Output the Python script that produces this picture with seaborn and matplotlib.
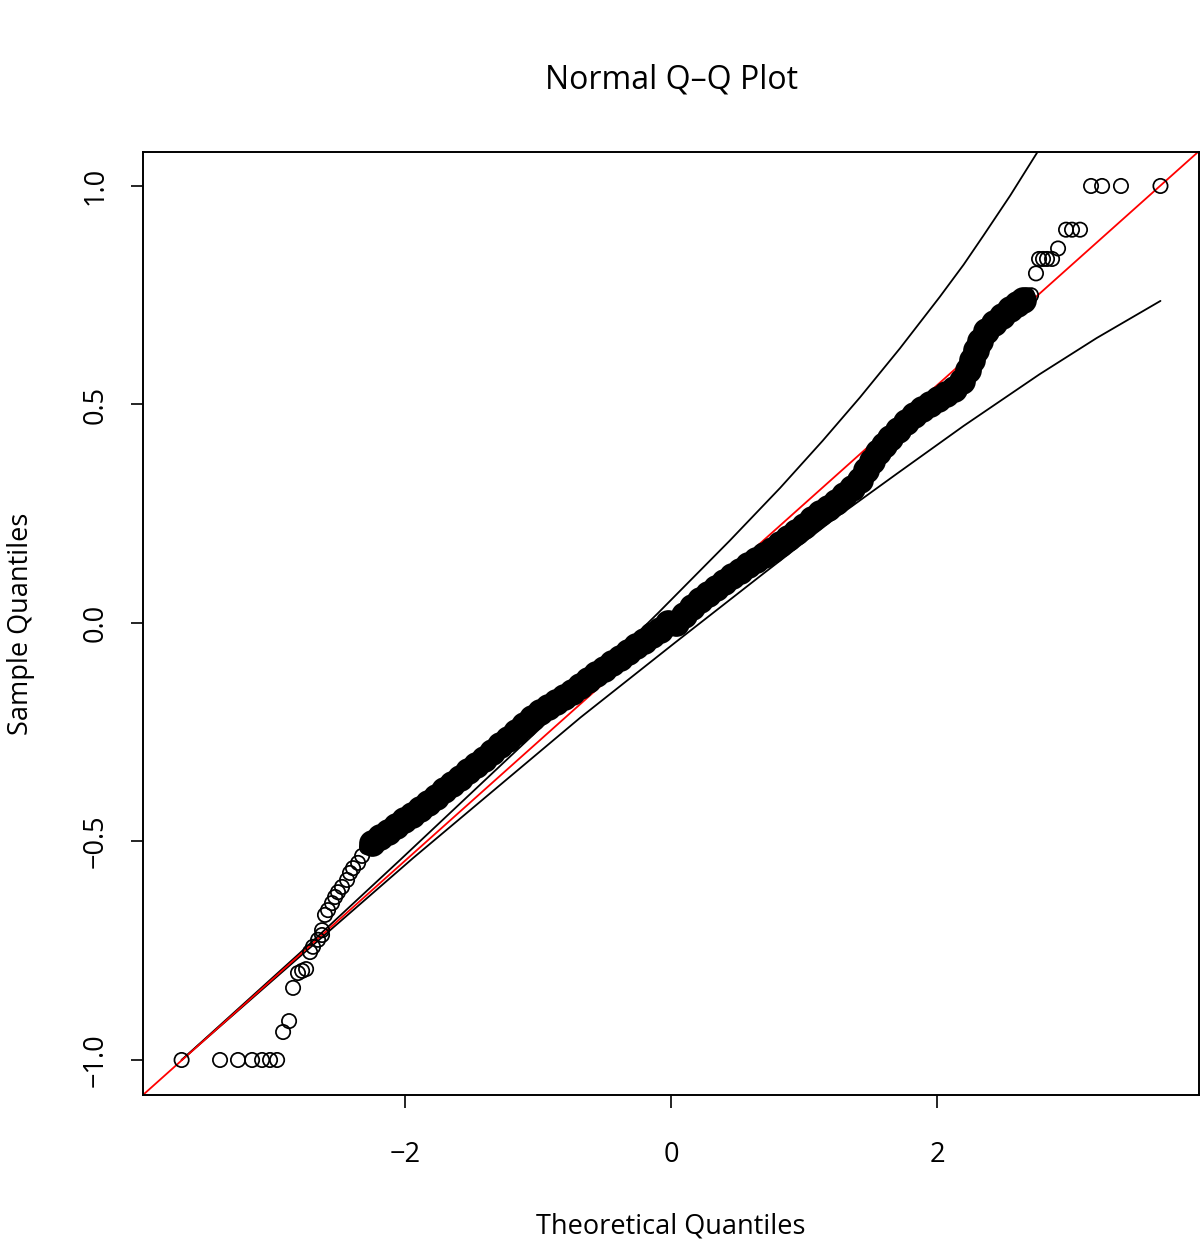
import matplotlib
matplotlib.use("Agg")
import matplotlib.pyplot as plt
import pandas as pd
import seaborn as sns

# Quantis teóricos x quantis amostrais
# cauda inferior: círculos isolados
low_tail_x = [-3.68, -3.391, -3.256, -3.150, -3.075, -3.015, -2.962, -2.917, -2.872,
              -2.842, -2.805, -2.774, -2.744, -2.714, -2.692, -2.654, -2.624, -2.624,
              -2.602, -2.579, -2.549, -2.526, -2.504, -2.474, -2.436, -2.414, -2.391,
              -2.353, -2.323, -2.286]
low_tail_y = [-1.0, -1.0, -1.0, -1.0, -1.0, -1.0, -1.0, -0.936, -0.911,
              -0.835, -0.801, -0.796, -0.792, -0.753, -0.741, -0.725, -0.714, -0.703,
              -0.668, -0.657, -0.641, -0.627, -0.616, -0.604, -0.588, -0.572, -0.561,
              -0.549, -0.533, -0.513]

# faixa central (pontos sobrepostos)
band_x = [-2.248, -2.188, -2.128, -2.068, -2.008, -1.947, -1.887, -1.827, -1.767, -1.707,
          -1.647, -1.586, -1.526, -1.466, -1.406, -1.346, -1.286, -1.226, -1.165, -1.105,
          -1.045, -0.985, -0.925, -0.865, -0.805, -0.744, -0.684, -0.624, -0.564, -0.504,
          -0.444, -0.383, -0.323, -0.263, -0.203, -0.143, -0.083, -0.023, 0.038, 0.098,
          0.158, 0.218, 0.278, 0.338, 0.398, 0.459, 0.519, 0.579, 0.639, 0.699,
          0.759, 0.820, 0.880, 0.940, 1.000, 1.060, 1.120, 1.180, 1.241, 1.301,
          1.361, 1.421, 1.466, 1.511, 1.556, 1.602, 1.647, 1.707, 1.767, 1.827,
          1.887, 1.947, 2.008, 2.068, 2.128, 2.188, 2.233, 2.263, 2.293, 2.323,
          2.368, 2.429, 2.489, 2.549, 2.602, 2.647]
band_y = [-0.503, -0.490, -0.478, -0.465, -0.451, -0.439, -0.426, -0.412, -0.398, -0.382,
          -0.368, -0.355, -0.339, -0.325, -0.311, -0.295, -0.279, -0.265, -0.249, -0.233,
          -0.217, -0.204, -0.192, -0.181, -0.169, -0.158, -0.144, -0.130, -0.117, -0.105,
          -0.092, -0.080, -0.066, -0.053, -0.041, -0.027, -0.016, 0.0, 0.0, 0.018,
          0.037, 0.053, 0.066, 0.079, 0.093, 0.107, 0.119, 0.133, 0.145, 0.155,
          0.167, 0.181, 0.195, 0.208, 0.223, 0.238, 0.251, 0.264, 0.277, 0.292,
          0.309, 0.327, 0.350, 0.371, 0.391, 0.407, 0.423, 0.442, 0.460, 0.476,
          0.490, 0.501, 0.513, 0.524, 0.535, 0.554, 0.579, 0.602, 0.625, 0.645,
          0.668, 0.686, 0.703, 0.719, 0.730, 0.739]

# cauda superior: círculos isolados
high_tail_x = [2.677, 2.707, 2.744, 2.767, 2.797, 2.827, 2.865, 2.910, 2.970, 3.015,
               3.075, 3.158, 3.241, 3.383, 3.68]
high_tail_y = [0.75, 0.75, 0.80, 0.833, 0.833, 0.833, 0.833, 0.857, 0.90, 0.90,
               0.90, 1.0, 1.0, 1.0, 1.0]

# curvas do envelope
upper_x = [-3.68, -2.79, -2.04, -0.89, -0.10, 0.44, 0.82, 1.14, 1.42, 1.72,
           2.02, 2.20, 2.35, 2.55, 2.76]
upper_y = [-1.0, -0.755, -0.543, -0.214, 0.022, 0.188, 0.309, 0.417, 0.516, 0.628,
           0.746, 0.820, 0.887, 0.978, 1.080]
lower_x = [-3.68, -2.79, -1.94, -0.68, 0.03, 0.69, 1.20, 1.70, 2.20, 2.77, 3.20, 3.68]
lower_y = [-1.0, -0.763, -0.538, -0.216, -0.045, 0.112, 0.232, 0.342, 0.451, 0.569,
           0.652, 0.737]

# linha de referência (qqline)
qq_slope = 0.272
qq_intercept = 0.0

x_ticks = [-2, 0, 2]
x_labels = ["\u22122", "0", "2"]
y_ticks = [-1.0, -0.5, 0.0, 0.5, 1.0]
y_labels = ["\u22121.0", "\u22120.5", "0.0", "0.5", "1.0"]

sns.set_theme(style="white")
plt.rcParams["font.family"] = ["Open Sans", "DejaVu Sans"]
plt.rcParams["text.color"] = "black"
plt.rcParams["axes.labelcolor"] = "black"

band = pd.DataFrame({"teorico": band_x, "amostral": band_y})
tails = pd.DataFrame({"teorico": low_tail_x + high_tail_x,
                      "amostral": low_tail_y + high_tail_y})

fig = plt.figure(figsize=(12, 12.43), dpi=100)
ax = fig.add_axes([0.1192, 0.1191, 0.88, 0.7587])

sns.lineplot(x=upper_x, y=upper_y, sort=False, estimator=None, color="black", lw=1.3, ax=ax)
sns.lineplot(x=lower_x, y=lower_y, sort=False, estimator=None, color="black", lw=1.3, ax=ax)
ax.axline((0, qq_intercept), slope=qq_slope, color="red", lw=1.3)

sns.scatterplot(data=band, x="teorico", y="amostral", s=370, color="black",
                edgecolor="black", linewidth=0, ax=ax, zorder=3)
sns.scatterplot(data=tails, x="teorico", y="amostral", s=106, facecolors="none",
                edgecolors="black", linewidth=1.25, ax=ax, zorder=3)

ax.set_xlim(-3.97, 3.97)
ax.set_ylim(-1.08, 1.078)
ax.set_xticks(x_ticks)
ax.set_xticklabels(x_labels)
ax.set_yticks(y_ticks)
ax.set_yticklabels(y_labels, rotation=90, va="center")

for s in ax.spines.values():
    s.set_visible(True)
    s.set_color("black")
    s.set_linewidth(1.4)

ax.tick_params(axis="both", direction="out", length=9, width=1.2, color="black",
               labelsize=19.5, labelcolor="black", bottom=True, left=True)
ax.tick_params(axis="x", pad=24)
ax.tick_params(axis="y", pad=15)

ax.set_xlabel("Theoretical Quantiles", fontsize=19.5, va="center")
ax.set_ylabel("Sample Quantiles", fontsize=19.5, va="center")
ax.xaxis.set_label_coords(0.5, -0.1395)
ax.yaxis.set_label_coords(-0.1156, 0.5)
ax.set_title("Normal Q\u2013Q Plot", fontsize=23, y=1.067, va="center")

fig.savefig("out.png", dpi=100)
